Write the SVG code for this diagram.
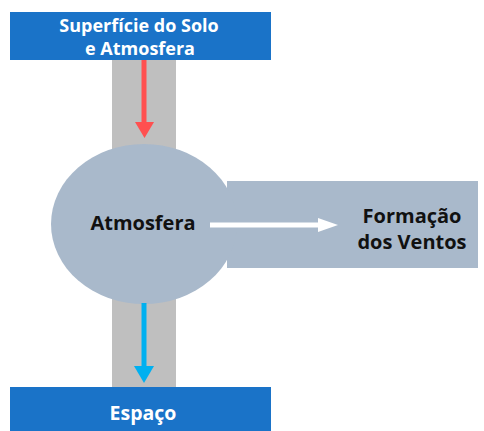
<svg xmlns="http://www.w3.org/2000/svg" width="484" height="431" viewBox="0 0 484 431">
<style>
.box{fill:#1A73C8}
.bar{fill:#BFBFBF}
.shape{fill:#A9B9CB}
.wt{font-family:"Open Sans","Liberation Sans",sans-serif;font-weight:bold;font-size:18px;fill:#FFFFFF;text-anchor:middle}
.dt{font-family:"Open Sans","Liberation Sans",sans-serif;font-weight:bold;font-size:20px;fill:#111111;text-anchor:middle}
</style>
<rect x="0" y="0" width="484" height="431" fill="#FFFFFF"/>
<g id="bar">
<rect class="bar" x="112" y="58" width="64" height="330"/>
</g>
<g id="ventos">
<rect class="shape" x="227" y="181" width="251" height="87"/>
<text class="dt" x="412" y="223">Formação</text>
<text class="dt" x="412" y="249">dos Ventos</text>
</g>
<g id="atmosfera">
<ellipse class="shape" cx="144" cy="224" rx="93" ry="80"/>
<text class="dt" x="143" y="230">Atmosfera</text>
</g>
<g id="superficie">
<rect class="box" x="10" y="12" width="261" height="48"/>
<text class="wt" x="139" y="32">Superfície do Solo</text>
<text class="wt" x="140" y="55">e Atmosfera</text>
</g>
<g id="espaco">
<rect class="box" x="10" y="387" width="261" height="44"/>
<text class="wt" x="143" y="420" style="font-size:19.5px">Espaço</text>
</g>
<g id="connectors">
<line x1="144" y1="60" x2="144" y2="124" stroke="#FF5050" stroke-width="5"/>
<polygon points="135,122 154,122 144.5,138" fill="#FF5050"/>
<line x1="144" y1="303" x2="144" y2="368" stroke="#00B0F0" stroke-width="5"/>
<polygon points="134,366 154,366 144,383" fill="#00B0F0"/>
<line x1="210" y1="225" x2="320" y2="225" stroke="#FFFFFF" stroke-width="5"/>
<polygon points="318,218 318,232 338,225" fill="#FFFFFF"/>
</g>
</svg>
